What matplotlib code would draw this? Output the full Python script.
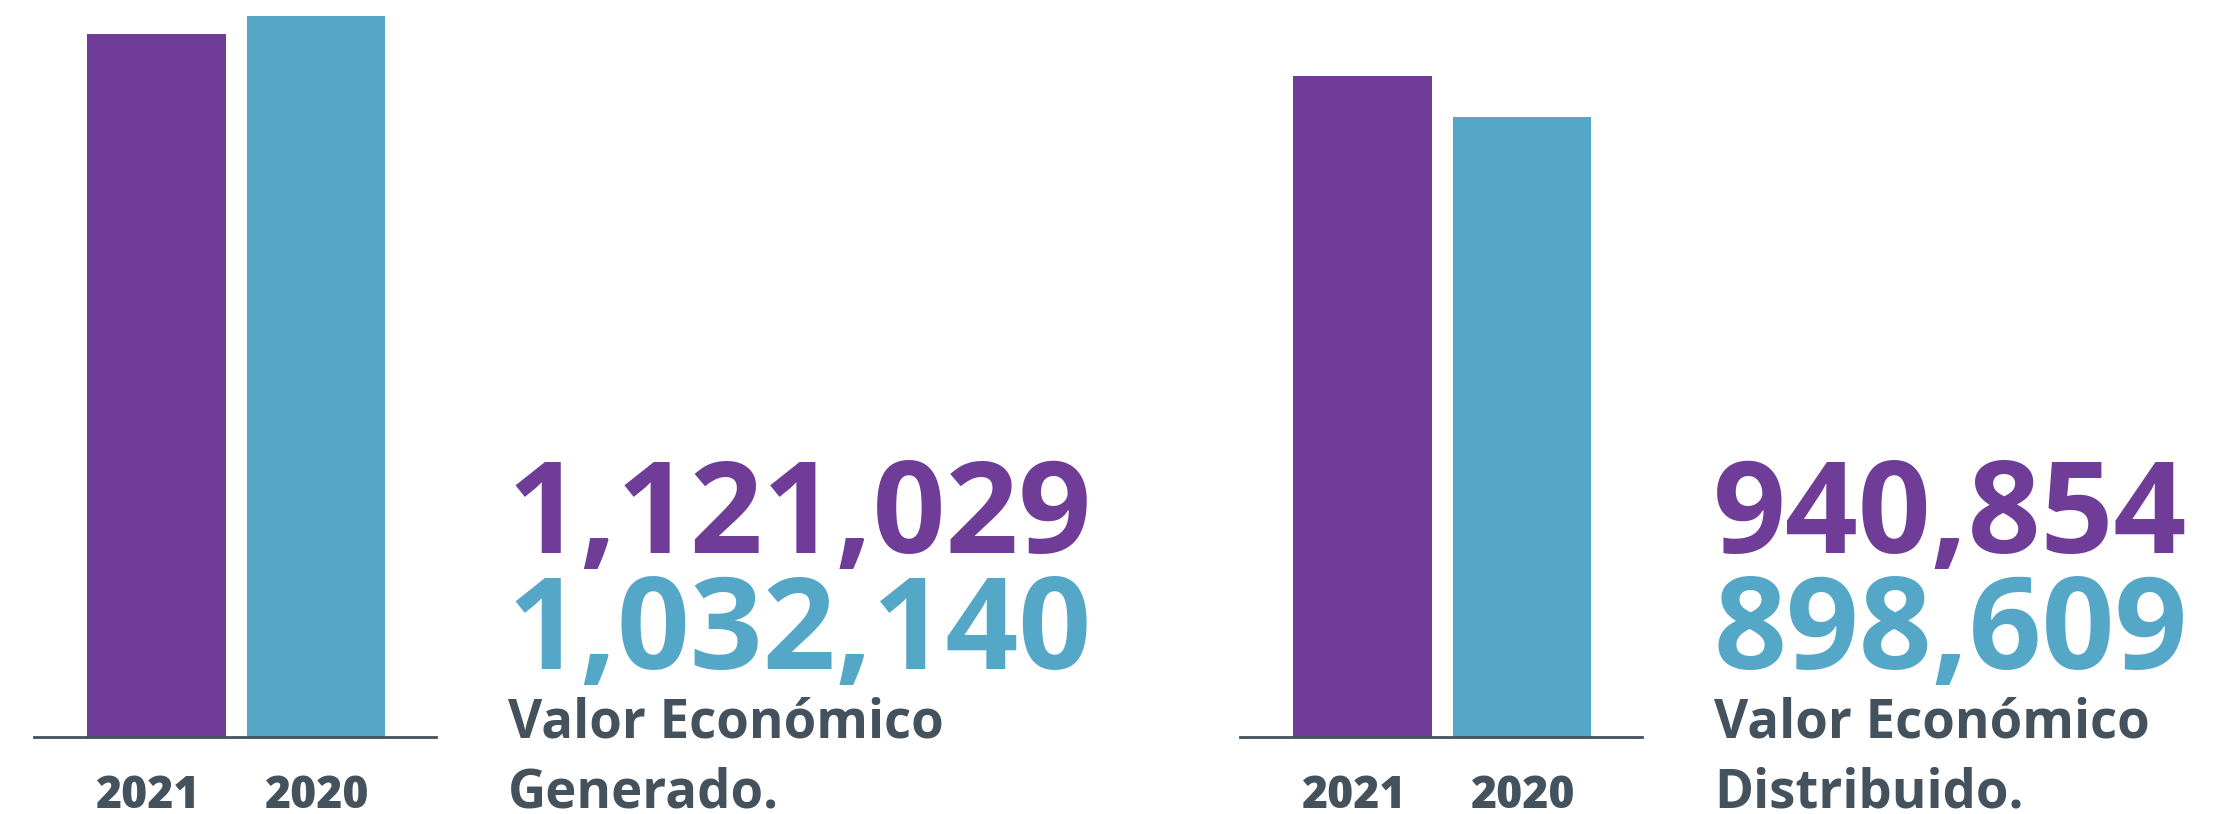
import matplotlib
matplotlib.use("Agg")
import matplotlib.pyplot as plt
import matplotlib.transforms as mtransforms

# ---- data ----
years = ["2021", "2020"]
# bar heights as drawn in the reference (pixel-scale units, axis top = 737)
generado_bars = [703, 721]
distribuido_bars = [661, 620]
generado_values = ["1,121,029", "1,032,140"]
distribuido_values = ["940,854", "898,609"]
label_line1 = "Valor Económico"
generado_line2 = "Generado."
distribuido_line2 = "Distribuido."

PURPLE = "#6f3c98"
BLUE = "#55a7c7"
GRAY = "#43525c"
colors = [PURPLE, BLUE]

W, H = 2214, 814
fig = plt.figure(figsize=(W / 100, H / 100), dpi=100)

num_font = dict(family=["Open Sans", "DejaVu Sans"], weight="bold")
lab_font = dict(family=["Open Sans", "DejaVu Sans"], weight="bold")
year_font = dict(family=["Open Sans", "DejaVu Sans"], weight="extra bold")

def px(x0, x1, y_top, y_bot):
    return [x0 / W, 1 - y_bot / H, (x1 - x0) / W, (y_bot - y_top) / H]

def panel(x0, x1, bars, values, line2, nx, lx):
    ax = fig.add_axes(px(x0, x1, 0, 737))
    ax.bar(range(len(years)), bars, width=0.87, color=colors, zorder=1)
    ax.set_xlim(-0.77, 1.755)
    ax.set_ylim(0, 737)
    for s in ["top", "right", "left"]:
        ax.spines[s].set_visible(False)
    ax.spines["bottom"].set_color(GRAY)
    ax.spines["bottom"].set_linewidth(2.0)
    ax.spines["bottom"].set_zorder(3)
    ax.set_yticks([])
    ax.set_xticks(range(len(years)), years)
    ax.tick_params(axis="x", length=0, pad=27, colors=GRAY)
    for lab, dx in zip(ax.get_xticklabels(), [-8, 1]):
        lab.set_fontsize(32)
        lab.set_fontfamily(year_font["family"])
        lab.set_fontweight(year_font["weight"])
        lab.set_transform(lab.get_transform() +
                          mtransforms.ScaledTranslation(dx / 100, 0, fig.dpi_scale_trans))
    fig.text(nx / W, 1 - 553 / H, values[0], ha="left", va="baseline",
             fontsize=92, color=PURPLE, **num_font)
    fig.text(nx / W, 1 - 669 / H, values[1], ha="left", va="baseline",
             fontsize=92, color=BLUE, **num_font)
    fig.text(lx / W, 1 - 737 / H, label_line1, ha="left", va="baseline",
             fontsize=38, color=GRAY, **lab_font)
    fig.text(lx / W, 1 - 808 / H, line2, ha="left", va="baseline",
             fontsize=38, color=GRAY, **lab_font)
    return ax

panel(34, 436, generado_bars, generado_values, generado_line2, 507, 508)
panel(1240, 1642, distribuido_bars, distribuido_values, distribuido_line2, 1713, 1714)

fig.savefig("out.png", dpi=100, facecolor="white")
